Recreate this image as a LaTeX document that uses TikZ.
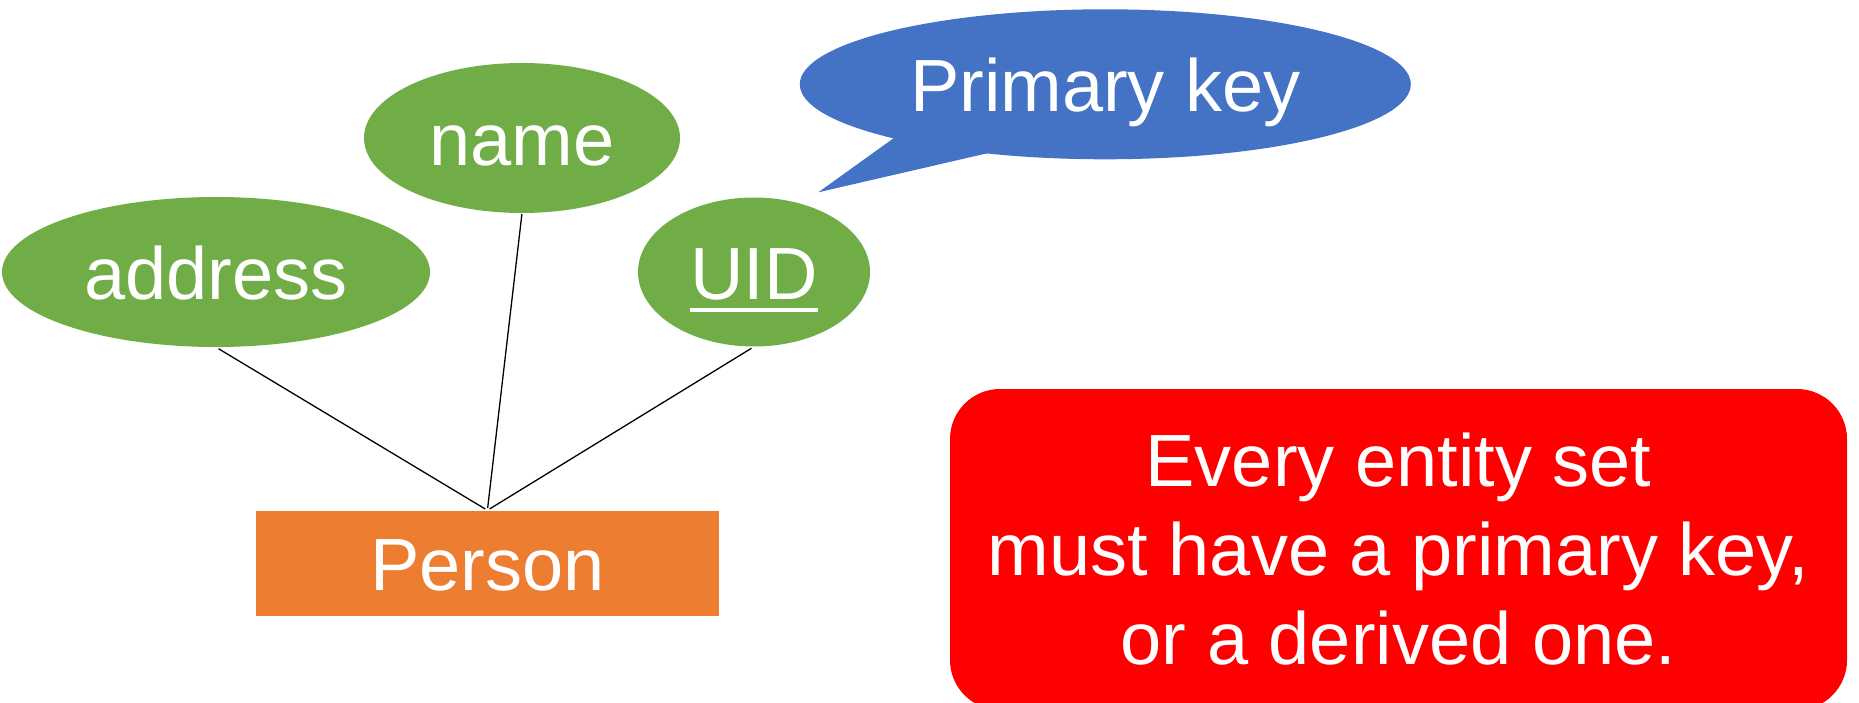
\documentclass[tikz,border=0pt]{standalone}
\usepackage{fontspec}
\setmainfont{Liberation Sans}
\usetikzlibrary{shapes.geometric,calc}
\definecolor{attrgreen}{HTML}{70AD47}
\definecolor{entityorange}{HTML}{ED7D31}
\definecolor{keyblue}{HTML}{4472C4}
\definecolor{notered}{HTML}{FF0000}
% key attribute: text with a thick rule below it
\newcommand\keyunderline[1]{\setbox0=\hbox{#1}\rlap{\rule[-12pt]{\wd0}{4pt}}\box0}

\begin{document}
\begin{tikzpicture}[x=1pt,y=-1pt,
  labelfont/.style={font=\fontsize{74}{89}\selectfont, text=white},
  oneline/.style={labelfont, text height=55pt, text depth=0pt, inner sep=0pt},
  attribute/.style={ellipse, fill=attrgreen, oneline},
  entity/.style={rectangle, fill=entityorange, oneline},
  bubble/.style={ellipse, fill=keyblue, oneline},
  link/.style={black, line width=1.3pt},
  note/.style={rectangle, rounded corners=50pt, fill=notered, labelfont, align=center, inner sep=0pt}]
\useasboundingbox (0,0) rectangle (1859,703);

% attributes
\node[attribute, minimum width=428pt, minimum height=150pt] (address) at (216,272) {address};
\node[attribute, minimum width=316pt, minimum height=150pt] (name) at (522,138) {name};
\node[attribute, minimum width=232pt, minimum height=149pt] (uid) at (754,272) {\keyunderline{UID}};

% entity set
\node[entity, minimum width=463pt, minimum height=105pt] (person) at (487.4,563) {Person};

% attribute links
\draw[link, shorten <=3pt, shorten >=2.5pt] (address.south) -- (person.north);
\draw[link, shorten <=1pt, shorten >=2.5pt] (name.south) -- (person.north);
\draw[link, shorten <=3pt, shorten >=2.5pt] (uid.south) -- (person.north);

% speech bubble naming the key
\coordinate (pktip) at (818.3,192.3);
\node[bubble, minimum width=611pt, minimum height=150pt] (pk) at (1105.3,84.3) {Primary key};
\fill[keyblue] ($(pk.center)+(-207.2,50.7)$) -- (pktip) -- ($(pk.center)+(-109.5,67)$) -- cycle;

% rule of thumb
\node[note, minimum width=897pt, minimum height=321pt] (notebox) at (1398.5,549.5)
  {Every entity set\\must have a primary key,\\or a derived one.};
\end{tikzpicture}
\end{document}
